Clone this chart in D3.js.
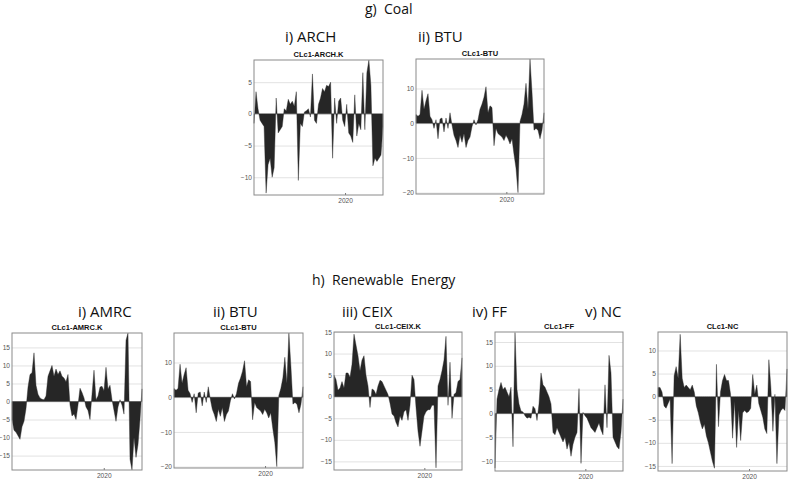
<!DOCTYPE html>
<html>
<head>
<meta charset="utf-8">
<script src="https://cdn.jsdelivr.net/npm/d3@7"></script>
<style>
  body { margin: 0; background: #fff; }
</style>
</head>
<body>
<div id="chart"></div>
<script>
// values, roughly one sample per 2px of plot width
const archValues = [-1.5, 3.5, 0.8, -1.0, -1.5, -2.0, -12.5, -8.0, -7.0, -10.0, -8.5, 2.5, -3.0, -2.5, -2.0, 0.8,
  0.5, 2.3, 1.5, 2.0, 1.2, 3.5, -10.5, -1.5, -2.0, 0.3, 0.5, 0.8, -0.5, 6.3, -1.0, -1.5, 1.5, 2.5, 4.0, 3.5,
  4.5, 4.3, 5.0, -7.0, 2.5, -1.5, 2.0, 2.5, -1.0, -2.0, 1.5, -3.0, -3.5, -4.5, 3.0, -3.5, -1.5, -2.5, 6.5, -2.5,
  6.5, 8.5, 4.5, -8.2, -7.0, -7.5, -7.0, -6.5, -2.0];

const btuValues = [2.5, 2.0, 2.5, 9.5, 4.0, 6.5, 8.5, 2.0, 1.0, -1.5, 1.0, -4.5, 1.2, 1.5, -2.5, 1.5, -1.5, 3.0,
  -0.5, -3.5, -5.0, -7.0, -3.5, -5.5, -3.0, -7.0, -5.0, -4.0, -1.0, 1.0, -0.5, 1.0, 4.0, 5.5, 7.5, 10.5, 3.0,
  5.0, 4.5, -6.5, -1.5, -3.0, -3.5, -4.0, -5.0, -3.5, -4.5, -6.0, -4.5, -9.0, -13.0, -20.0, 0.5, 2.5, 5.5, 11.5,
  4.0, 18.5, 9.0, -2.0, -1.5, -2.0, -4.5, -2.0, 3.0];

const amrcValues = [-5.0, -8.0, -8.5, -9.5, -10.5, -7.0, -5.5, -2.0, 4.0, 7.5, 8.0, 13.5, 4.5, 2.0, 1.0, 0.6, 0.5,
  1.5, 7.0, 8.5, 10.0, 7.0, 9.0, 7.5, 8.5, 7.0, 6.5, 5.5, 7.5, -1.0, -4.0, -3.5, -5.0, -1.0, 3.7, 2.5, 1.0, -1.5,
  -2.5, -5.0, 2.0, 8.7, 0.5, 1.5, 4.0, 4.2, 3.0, 9.5, 3.5, 4.5, 0.5, -2.5, -5.5, -1.5, 0.5, -1.0, -3.5, 17.0,
  19.0, -16.0, -19.0, -10.0, -15.5, -12.0, -5.0, 3.5];

const ceixValues = [5.0, 4.0, 1.5, 2.0, 3.5, 2.0, 5.5, 5.5, 4.5, 7.5, 14.5, 12.0, 9.5, 6.0, 8.5, 9.5, 5.0, 2.5,
  -2.5, 1.8, 1.5, 0.5, 2.5, 3.8, 3.5, 2.5, 1.5, 0.5, -1.5, -4.0, -4.5, -6.0, -7.0, -4.5, -5.5, -3.5, -3.0, -5.5,
  -2.0, 5.0, 4.0, -2.5, -8.0, -11.5, -8.0, -4.5, -3.5, -3.0, -3.0, -2.0, -2.0, -16.5, 2.5, 4.0, 6.0, 8.5, 14.0,
  -2.0, 8.0, -5.0, 0.5, 1.0, 3.5, 4.0, 9.0];

const ffValues = [-11.5, 3.0, 5.0, 6.5, 5.0, 5.5, 4.5, 3.5, 5.5, -7.0, 17.0, 5.0, 2.0, 0.5, 0.3, -0.5, -1.0, -0.8,
  -1.0, 1.5, 1.0, -1.5, 2.0, 8.5, 6.0, 5.5, 4.5, 3.5, 2.0, -4.0, -4.5, -3.0, -4.0, -5.0, -6.0, -5.0, -7.5, -6.0,
  -9.0, -6.5, -5.0, -4.0, 5.2, -10.5, 0.2, -0.5, -1.0, -2.0, -3.0, -3.5, -4.0, -3.0, -2.0, -3.5, -4.5, 6.0, -3.0,
  12.2, 8.5, -5.0, -6.0, -7.0, -7.5, -4.0, 3.0];

const ncValues = [2.0, 2.0, 1.0, -2.0, -2.5, -1.5, -0.5, -14.5, 4.5, 6.5, 4.0, 13.5, 4.0, 2.0, 2.5, 2.0, 1.5, 2.5,
  1.0, -2.0, -3.5, -5.5, -7.0, -6.0, -8.5, -10.0, -12.0, -14.0, -15.5, 7.0, -6.5, 1.0, 3.5, 4.8, 3.5, 3.5, 0.5,
  -9.0, -1.0, -11.0, -3.0, -9.5, -3.5, -3.0, -3.5, -3.2, -2.5, 4.8, 0.5, 2.5, -1.5, -3.0, -4.5, -7.0, -8.0, 8.0,
  2.0, -7.5, 0.5, -14.5, -4.0, -3.0, -2.5, -3.0, 6.0];

const archTicks = [-10, -5, 0, 5];
const btuTicks = [-20, -10, 0, 10];
const fiveTicks15 = [-15, -10, -5, 0, 5, 10, 15];
const ffTicks = [-10, -5, 0, 5, 10, 15];
const ncTicks = [-15, -10, -5, 0, 5, 10];

const startDate = new Date(2016, 0, 1);
const endDate = new Date(2021, 8, 1);
const yearTicks = [new Date(2020, 0, 1)];

const headings = [
  { text: "g)  Coal", x: 365, y: 14, size: 14 },
  { text: "i) ARCH", x: 285, y: 42, size: 15 },
  { text: "ii) BTU", x: 418, y: 42, size: 15 },
  { text: "h)  Renewable  Energy", x: 312, y: 285, size: 14 },
  { text: "i) AMRC", x: 78, y: 317, size: 15 },
  { text: "ii) BTU", x: 213, y: 317, size: 15 },
  { text: "iii) CEIX", x: 342, y: 317, size: 15 },
  { text: "iv) FF", x: 472, y: 317, size: 15 },
  { text: "v) NC", x: 585, y: 317, size: 15 }
];

// left, top, right, bottom of each plot box
const panels = [
  { title: "CLc1-ARCH.K", values: archValues, ticks: archTicks, domain: [-12.8, 8.5], box: [254, 60, 383, 195] },
  { title: "CLc1-BTU", values: btuValues, ticks: btuTicks, domain: [-20.4, 18.5], box: [416, 59, 544, 194] },
  { title: "CLc1-AMRC.K", values: amrcValues, ticks: fiveTicks15, domain: [-19, 19], box: [12, 333, 142, 470] },
  { title: "CLc1-BTU", values: btuValues, ticks: btuTicks, domain: [-20.4, 18.5], box: [174, 333, 303, 468] },
  { title: "CLc1-CEIX.K", values: ceixValues, ticks: fiveTicks15, domain: [-17, 15], box: [334, 332, 462, 470] },
  { title: "CLc1-FF", values: ffValues, ticks: ffTicks, domain: [-12.1, 17.1], box: [495, 332, 623, 471] },
  { title: "CLc1-NC", values: ncValues, ticks: ncTicks, domain: [-16.1, 14], box: [658, 332, 787, 471] }
];

const width = 789;
const height = 479;
const svg = d3.create("svg")
  .attr("width", width)
  .attr("height", height);

svg.append("g")
  .selectAll("text")
  .data(headings)
  .join("text")
    .attr("x", d => d.x)
    .attr("y", d => d.y)
    .attr("font-family", "'Open Sans', sans-serif")
    .attr("font-size", d => d.size)
    .attr("fill", "#111")
    .style("white-space", "pre")
    .text(d => d.text);

panels.forEach(p => drawPanel(p));

function drawPanel(p) {
  const [left, top, right, bottom] = p.box;
  const g = svg.append("g");

  const x = d3.scaleTime()
    .domain([startDate, endDate])
    .range([left, right]);
  const y = d3.scaleLinear()
    .domain(p.domain)
    .range([bottom, top]);
  // spread the samples evenly over the date range
  const when = d3.scaleLinear()
    .domain([0, p.values.length - 1])
    .range([startDate, endDate]);

  // gridlines + labels
  g.append("g")
    .attr("transform", `translate(${left},0)`)
    .call(d3.axisLeft(y).tickValues(p.ticks).tickSize(-(right - left)).tickPadding(2))
    .call(a => a.select(".domain").remove())
    .call(a => a.selectAll("line").attr("stroke", "#e2e2e2"))
    .call(a => a.selectAll("text")
      .attr("font-family", "'Liberation Sans', Arial, sans-serif")
      .attr("font-size", 6.6)
      .attr("fill", "#555"));

  const area = d3.area()
    .x((d, i) => x(when(i)))
    .y0(y(0))
    .y1(d => y(d));

  g.append("path")
    .datum(p.values)
    .attr("d", area)
    .attr("fill", "#262626")
    .attr("stroke", "#262626")
    .attr("stroke-width", 0.4);

  g.append("g")
    .attr("transform", `translate(0,${bottom})`)
    .call(d3.axisBottom(x).tickValues(yearTicks).tickFormat(d3.timeFormat("%Y")).tickSize(-2).tickPadding(3))
    .call(a => a.select(".domain").remove())
    .call(a => a.selectAll("line").attr("stroke", "#777"))
    .call(a => a.selectAll("text")
      .attr("font-family", "'Liberation Sans', Arial, sans-serif")
      .attr("font-size", 6.6)
      .attr("fill", "#555"));

  g.append("rect")
    .attr("x", left)
    .attr("y", top)
    .attr("width", right - left)
    .attr("height", bottom - top)
    .attr("fill", "none")
    .attr("stroke", "#8a8a8a")
    .attr("stroke-width", 1);

  g.append("text")
    .attr("x", (left + right) / 2)
    .attr("y", top - 3.5)
    .attr("text-anchor", "middle")
    .attr("font-family", "'Liberation Sans', Arial, sans-serif")
    .attr("font-weight", "bold")
    .attr("font-size", 7.5)
    .attr("fill", "#111")
    .text(p.title);
}

document.getElementById("chart").appendChild(svg.node());
</script>
</body>
</html>
